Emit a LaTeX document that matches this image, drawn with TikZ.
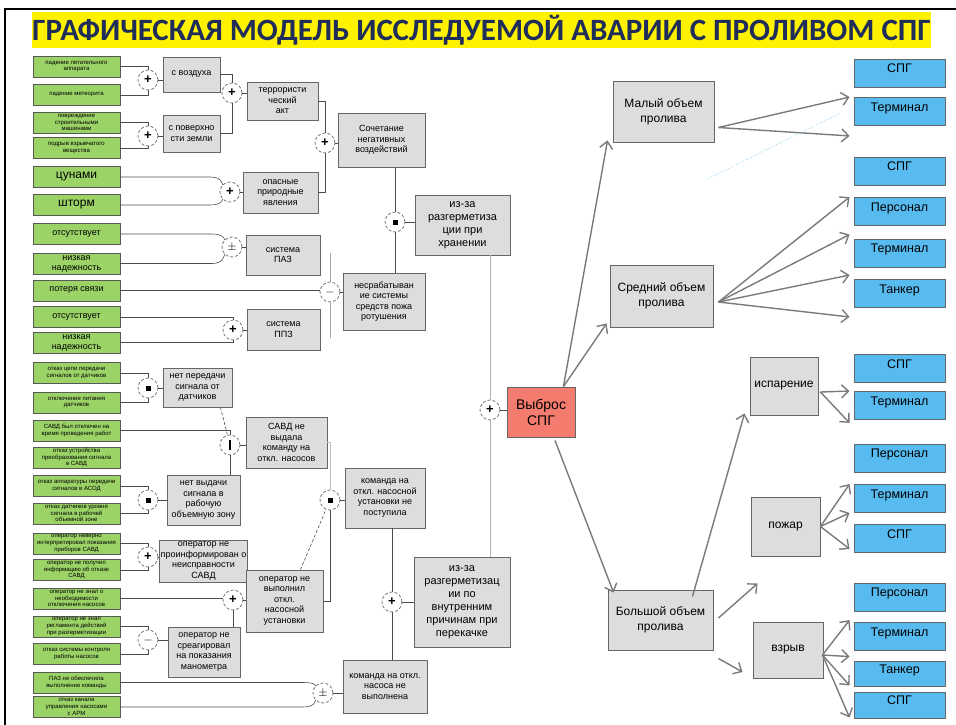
\documentclass[tikz,border=0pt]{standalone}
\usepackage{fontspec}
\setmainfont{Liberation Sans}
\newfontfamily\titlefont{Carlito}
\usetikzlibrary{calc,positioning,arrows.meta}
\definecolor{leafgreen}{RGB}{155,211,103}
\definecolor{boxgray}{RGB}{221,221,221}
\definecolor{skyblue}{RGB}{88,187,240}
\definecolor{salmon}{RGB}{244,124,110}
\definecolor{navy}{RGB}{31,45,90}
\definecolor{arrowgray}{RGB}{122,122,122}

\begin{document}
\begin{tikzpicture}[x=1pt,y=-1pt]
\tikzstyle{cause}=[rectangle, draw=black!65, fill=leafgreen, line width=0.8pt, minimum width=87pt, minimum height=21pt, inner sep=0.5pt, align=center, font=\fontsize{6}{6.6}\selectfont]
\tikzstyle{ev}=[rectangle, draw=black!60, fill=boxgray, line width=0.9pt, inner sep=1pt, align=center, font=\fontsize{9}{10.5}\selectfont]
\tikzstyle{gate}=[circle, draw=black!60, densely dashed, fill=white, minimum size=20pt, inner sep=0pt, line width=0.7pt, font=\fontsize{13}{13}\selectfont\bfseries]
\tikzstyle{target}=[rectangle, draw=black!60, fill=skyblue, line width=0.9pt, minimum width=91pt, minimum height=28pt, text depth=9pt, font=\fontsize{12.5}{14}\selectfont]
\tikzstyle{link}=[draw=black!70, line width=0.6pt]
\tikzstyle{arr}=[draw=arrowgray, line width=1.4pt, -{Straight Barb[length=7pt,width=13pt]}]
\useasboundingbox (0,0) rectangle (956,725);
\draw[line width=1.5pt] (5,725) -- (5,9) -- (956,9);
\node[fill=yellow, minimum width=887pt, minimum height=36pt, inner sep=0pt, text=navy, font=\titlefont\bfseries\fontsize{31}{31}\selectfont] (title) at (481.5,30) {ГРАФИЧЕСКАЯ МОДЕЛЬ ИССЛЕДУЕМОЙ АВАРИИ С ПРОЛИВОМ СПГ};

% исходные события
\node[cause] (c1) at (76.5,66.5) {падение летательного\\аппарата};
\node[cause] (c2) at (76.5,95) {падение метеорита};
\node[cause] (c3) at (76.5,122.5) {повреждение\\строительными\\машинами};
\node[cause] (c4) at (76.5,148) {подрыв взрывчатого\\вещества};
\node[cause, font=\fontsize{12}{12}\selectfont] (c5) at (76.5,177) {цунами};
\node[cause, font=\fontsize{12}{12}\selectfont] (c6) at (76.5,205) {шторм};
\node[cause, font=\fontsize{9}{10}\selectfont] (c7) at (76.5,234) {отсутствует};
\node[cause, font=\fontsize{9}{10}\selectfont] (c8) at (76.5,263.5) {низкая\\надежность};
\node[cause, font=\fontsize{9}{10}\selectfont] (c9) at (76.5,290.5) {потеря связи};
\node[cause, font=\fontsize{9}{10}\selectfont] (c10) at (76.5,317) {отсутствует};
\node[cause, font=\fontsize{9}{10}\selectfont] (c11) at (76.5,342.5) {низкая\\надежность};
\node[cause] (c12) at (76.5,373) {отказ цепи передачи\\сигналов от датчиков};
\node[cause] (c13) at (76.5,402.5) {отключение питания\\датчиков};
\node[cause] (c14) at (76.5,430.5) {САВД был отключен на\\время проведения работ};
\node[cause] (c15) at (76.5,457.5) {отказ устройства\\преобразования сигнала\\в САВД};
\node[cause] (c16) at (76.5,486) {отказ аппаратуры передачи\\сигналов в АСОД};
\node[cause] (c17) at (76.5,513.5) {отказ датчиков уровня\\сигнала в рабочей\\объемной зоне};
\node[cause] (c18) at (76.5,543.5) {оператор неверно\\интерпретировал показания\\приборов САВД};
\node[cause] (c19) at (76.5,570) {оператор не получил\\информацию об отказе\\САВД};
\node[cause] (c20) at (76.5,598.5) {оператор не знал о\\необходимости\\отключения насосов};
\node[cause] (c21) at (76.5,626.5) {оператор не знал\\регламента действий\\при разгерметизации};
\node[cause] (c22) at (76.5,654) {отказ системы контроля\\работы насосов};
\node[cause] (c23) at (76.5,682.5) {ПАЗ не обеспечила\\выполнение команды};
\node[cause] (c24) at (76.5,707) {отказ канала\\управления насосами\\с АРМ};

% промежуточные события
\node[ev, minimum width=57pt, minimum height=35pt] (vozd) at (191.5,74.5) {с воздуха};
\node[ev, minimum width=57pt, minimum height=37pt] (pov) at (191.5,133.5) {с поверхно\\сти земли};
\node[ev, minimum width=71pt, minimum height=38pt] (terr) at (282.5,101) {террористи\\ческий\\акт};
\node[ev, minimum width=75pt, minimum height=41pt] (opas) at (280.5,192.5) {опасные\\природные\\явления};
\node[ev, minimum width=87pt, minimum height=54pt] (soch) at (381.5,140) {Сочетание\\негативных\\воздействий};
\node[ev, minimum width=95pt, minimum height=60pt, font=\fontsize{11}{13}\selectfont] (khr) at (462.5,225) {из-за\\разгерметиза\\ции при\\хранении};
\node[ev, minimum width=74pt, minimum height=40pt] (sys1) at (283,255) {система\\ПАЗ};
\node[ev, minimum width=73pt, minimum height=41pt] (sys2) at (283.5,329.5) {система\\ППЗ};
\node[ev, minimum width=82pt, minimum height=57pt] (nes) at (384,301.5) {несрабатыван\\ие системы\\средств пожа\\ротушения};
\node[ev, minimum width=69pt, minimum height=39pt] (per) at (197.5,387.5) {нет передачи\\сигнала от\\датчиков};
\node[ev, minimum width=81pt, minimum height=51pt] (savd) at (286.5,442.5) {САВД не\\выдала\\команду на\\откл. насосов};
\node[ev, minimum width=73pt, minimum height=50pt] (vyd) at (203.5,500) {нет выдачи\\сигнала в\\рабочую\\объемную зону};
\node[ev, minimum width=80pt, minimum height=60pt] (komotsech) at (385,498) {команда на\\откл. насосной\\установки не\\поступила};
\node[ev, minimum width=73pt, minimum height=42pt] (oprinf) at (203.5,561) {оператор не\\проинформирован о\\неисправности\\САВД};
\node[ev, minimum width=77pt, minimum height=62pt] (opvyp) at (284.5,601) {оператор не\\выполнил\\откл.\\насосной\\установки};
\node[ev, minimum width=72pt, minimum height=50pt] (opreag) at (204,652) {оператор не\\среагировал\\на показания\\манометра};
\node[ev, minimum width=96pt, minimum height=90pt, font=\fontsize{11}{13}\selectfont] (perek) at (462,602) {из-за\\разгерметизац\\ии по\\внутренним\\причинам при\\перекачке};
\node[ev, minimum width=84pt, minimum height=53pt] (komotkl) at (385,686.5) {команда на откл.\\насоса не\\выполнена};

% вершина и последствия
\node[ev, fill=salmon, minimum width=68pt, minimum height=50pt, font=\fontsize{14}{16}\selectfont] (vybros) at (541,412) {Выброс\\СПГ};
\node[ev, minimum width=101pt, minimum height=61pt, font=\fontsize{12}{15}\selectfont] (maly) at (663.5,111.5) {Малый объем\\пролива};
\node[ev, minimum width=103pt, minimum height=62pt, font=\fontsize{12}{15}\selectfont] (sred) at (661.5,296) {Средний объем\\пролива};
\node[ev, minimum width=105pt, minimum height=60pt, font=\fontsize{12}{15}\selectfont] (bolsh) at (660.5,620) {Большой объем\\пролива};
\node[ev, minimum width=68pt, minimum height=58pt, font=\fontsize{12}{15}\selectfont] (isp) at (784,386) {испарение};
\node[ev, minimum width=69pt, minimum height=59pt, font=\fontsize{12}{15}\selectfont] (poz) at (785.5,526.5) {пожар};
\node[ev, minimum width=70pt, minimum height=56pt, font=\fontsize{12}{15}\selectfont] (vzr) at (788,650) {взрыв};

\node[target] (mt1) at (899.5,73) {СПГ};
\node[target] (mt2) at (899.5,111.5) {Терминал};
\node[target] (st1) at (899.5,171) {СПГ};
\node[target] (st2) at (899.5,211.5) {Персонал};
\node[target] (st3) at (899.5,253) {Терминал};
\node[target] (st4) at (899.5,293.5) {Танкер};
\node[target] (bt1) at (899.5,368.5) {СПГ};
\node[target] (bt2) at (899.5,405.5) {Терминал};
\node[target] (bt3) at (899.5,458) {Персонал};
\node[target] (bt4) at (899.5,498.5) {Терминал};
\node[target] (bt5) at (899.5,538.5) {СПГ};
\node[target] (bt6) at (899.5,597) {Персонал};
\node[target] (bt7) at (899.5,636.5) {Терминал};
\node[target, minimum height=25pt] (bt8) at (899.5,673.5) {Танкер};
\node[target, minimum height=26pt] (bt9) at (899.5,705) {СПГ};

% вентили
\node[gate] (g1) at (148,80) {+};
\node[gate] (g2) at (148,136) {+};
\node[gate] (g3) at (232,93) {+};
\node[gate] (g4) at (230,192) {+};
\node[gate] (g5) at (325,143) {+};
\node[gate] (g6) at (395,222) {\rule{5pt}{5pt}};
\node[gate] (g7) at (330,292) {$-$};
\node[gate] (g8) at (232,247) {$\pm$};
\node[gate] (g9) at (233,330) {+};
\node[gate] (g10) at (148,388) {\rule{5pt}{5pt}};
\node[gate] (g11) at (230,445) {\rule{1.4pt}{10pt}};
\node[gate] (g12) at (148,500) {\rule{5pt}{5pt}};
\node[gate] (g13) at (330,500) {\rule{5pt}{5pt}};
\node[gate] (g14) at (392,602) {+};
\node[gate] (g15) at (323,693) {$\pm$};
\node[gate] (g16) at (148,557) {+};
\node[gate] (g17) at (233,600) {+};
\node[gate] (g18) at (148,640) {$-$};
\node[gate] (g19) at (490,410) {+};

\coordinate (v1) at (330,253);
\coordinate (v2) at (330,338);
\coordinate (vyT) at ($(vybros.north east)+(-12,0)$);
\coordinate (vyB) at ($(vybros.south)+(14,3)$);
\coordinate (mS) at ($(maly.east)+(4,16)$);
\coordinate (mE1) at ($(mt2.north west)+(-4,0)$);
\coordinate (mE2) at ($(mt2.south west)+(-4,10)$);
\coordinate (sS) at ($(sred.east)+(5,6)$);
\coordinate (sE1) at ($(st2.north west)+(-4,0)$);
\coordinate (sE2) at ($(st3.north west)+(-4,-4)$);
\coordinate (sE3) at ($(st4.north west)+(-4,-4)$);
\coordinate (sE4) at ($(st4.south west)+(-4,9)$);
\coordinate (bS1) at ($(bolsh.north east)+(-21,7)$);
\coordinate (bS2) at ($(bolsh.east)+(5,-2)$);
\coordinate (bS3) at ($(bolsh.south east)+(5,8)$);
\coordinate (bE1) at ($(isp.south west)+(-5,-2)$);
\coordinate (bE2) at ($(poz.south west)+(7,27)$);
\coordinate (bE3) at ($(vzr.west)+(-10,22)$);
\coordinate (iS) at ($(isp.east)+(2,6)$);
\coordinate (iE1) at ($(bt2.north west)+(-4,0)$);
\coordinate (iE2) at ($(bt2.south west)+(-4,3)$);
\coordinate (pS) at (poz.east);
\coordinate (pE1) at ($(bt4.north west)+(-4,0)$);
\coordinate (pE2) at ($(bt4.south west)+(-4,0)$);
\coordinate (pE3) at ($(bt5.south west)+(-4,-4)$);
\coordinate (zS) at ($(vzr.east)+(-1,5)$);
\coordinate (zE1) at ($(bt7.north west)+(-4,-2)$);
\coordinate (zE2) at ($(bt8.north west)+(-4,-4)$);
\coordinate (zE3) at ($(bt8.south west)+(-4,-1)$);
\coordinate (zE4) at ($(bt9.south west)+(-4,-1)$);
\coordinate (mA) at ($(maly.south west)+(-5,-2)$);
\coordinate (sA) at ($(sred.south west)+(-3,-4)$);
\coordinate (bA) at ($(bolsh.north west)+(6,3)$);

\foreach \i/\j in {c1/g1,c2/g1,c3/g2,c4/g2,vozd/g3,pov/g3,terr/g5,opas/g5,c10/g9,c11/g9,c12/g10,c13/g10,c14/g11,c16/g12,c17/g12,c18/g16,c19/g16,c21/g18,c22/g18,opvyp/g13}{\draw[link] (\i.east) -| (\j);}
\foreach \i/\j/\d in {c5/g4/-8,c6/g4/8,c7/g8/-8,c8/g8/8,c23/g15/-8,c24/g15/8}{\draw[link] (\i.east) -- ($(\i.east -| \j)+(-20,0)$) .. controls +(12,0) and +(-8,\d) .. (\j);}
\foreach \i/\j in {g1/vozd,g2/pov,g3/terr,g4/opas,g5/soch,g6/khr,g7/nes,g8/sys1,g9/sys2,g10/per,g11/savd,g12/vyd,g13/komotsech,g14/perek,g15/komotkl,g16/oprinf,g17/opvyp,g18/opreag,g19/vybros}{\draw[link] (\i) -- (\j.west |- \i);}
\draw[link] (c9.east) -- (g7.west |- c9.east);
\draw[link] (c20.east) -- (g17.west |- c20.east);
\draw[link] (soch.south -| g6) -- (g6) -- (g6 |- nes.north);
\draw[link, black!35] (v1) -- (g7) -- (v2);
\draw[link] (g11 |- vyd.north) -- (g11);
\draw[link, densely dashed] ($(per.south east)+(-12,0)$) -- (g11);
\draw[link] (g17 |- opreag.north) -- (g17);
\draw[link, densely dashed] ($(opvyp.north)+(16,0)$) -- (g13);
\draw[link, black!25] (savd.east) -| (g13);
\draw[link] (komotsech.south -| g14) -- (g14) -- (g14 |- komotkl.north);
\draw[link, black!30] (khr.south -| g19) -- (g19) -- (g19 |- perek.north);

\foreach \i/\j in {vyT/mA,vyT/sA,vyB/bA,mS/mE1,mS/mE2,sS/sE1,sS/sE2,sS/sE3,sS/sE4,bS1/bE1,bS2/bE2,bS3/bE3,iS/iE1,iS/iE2,pS/pE1,pS/pE2,pS/pE3,zS/zE1,zS/zE2,zS/zE3,zS/zE4}{\draw[arr] (\i) -- (\j);}
\draw[dotted, skyblue!70, line width=0.8pt] ($(maly.south east)+(-6,36)$) -- ($(mt2.west)+(-14,2)$);
\end{tikzpicture}
\end{document}
